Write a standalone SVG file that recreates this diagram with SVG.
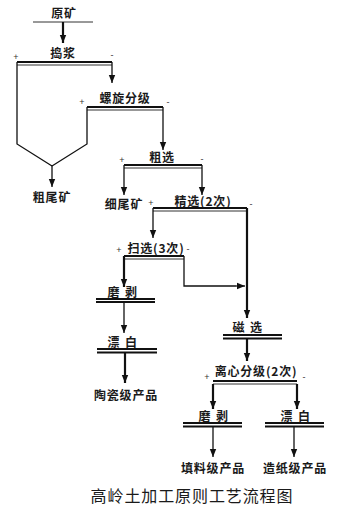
<svg xmlns="http://www.w3.org/2000/svg" width="338" height="506" viewBox="0 0 338 506">
<style>
.t{font-family:"Noto Sans CJK SC","Noto Sans",sans-serif;font-size:12px;font-weight:bold;fill:#1a1a1a;text-anchor:middle;letter-spacing:0.8px}
.s{font-family:"Liberation Sans",sans-serif;font-size:9px;fill:#333;text-anchor:middle}
.title{font-family:"Noto Sans CJK SC",sans-serif;font-size:16px;fill:#1a1a1a;text-anchor:middle;letter-spacing:0.9px}
.b1{stroke:#111;stroke-width:1.8;fill:none}
.b2{stroke:#333;stroke-width:1;fill:none}
.c{stroke:#111;stroke-width:1.3;fill:none}
.ct{stroke:#111;stroke-width:2.2;fill:none}
.ca{stroke:#111;stroke-width:1.3;fill:none;marker-end:url(#ah)}
.cta{stroke:#111;stroke-width:2.2;fill:none;marker-end:url(#ah)}
</style>
<defs>
<marker id="ah" markerUnits="userSpaceOnUse" markerWidth="8" markerHeight="8" viewBox="0 0 8 8" refX="8" refY="4" orient="auto">
<path d="M0 0.8 L8 4 L0 7.2 Z" fill="#111"/>
</marker>
</defs>
<rect width="338" height="506" fill="#fff"/>

<g id="n-yuankuang">
<text class="t" x="64" y="17.5">原矿</text>
<line class="b2" x1="33" y1="22" x2="93" y2="22" stroke-width="1.3"/>
</g>

<g id="n-daojiang">
<text class="t" x="63" y="57.5">捣浆</text>
<text class="s" x="16" y="60">+</text>
<text class="s" x="112" y="58">-</text>
<line class="b1" x1="17" y1="62" x2="112" y2="62"/>
<line class="b2" x1="17" y1="65" x2="112" y2="65"/>
</g>

<g id="n-luoxuan">
<text class="t" x="125" y="102.5">螺旋分级</text>
<text class="s" x="82" y="105">+</text>
<text class="s" x="168" y="105">-</text>
<line class="b1" x1="87" y1="107" x2="163" y2="107"/>
<line class="b2" x1="87" y1="110" x2="163" y2="110"/>
</g>

<g id="n-cuweikuang">
<text class="t" x="52" y="201.5">粗尾矿</text>
</g>

<g id="n-cuxuan">
<text class="t" x="162" y="161.5">粗选</text>
<text class="s" x="122" y="163">+</text>
<text class="s" x="202" y="162">-</text>
<line class="b1" x1="124" y1="165" x2="202" y2="165"/>
<line class="b2" x1="124" y1="168" x2="202" y2="168"/>
</g>

<g id="n-xiweikuang">
<text class="t" x="124" y="208.5">细尾矿</text>
</g>

<g id="n-jingxuan">
<text class="t" x="203" y="205.5">精选(2次)</text>
<text class="s" x="151" y="206">+</text>
<text class="s" x="251" y="207">-</text>
<line class="b1" x1="153" y1="208" x2="247" y2="208" stroke-width="2"/>
<line class="b2" x1="153" y1="211" x2="247" y2="211"/>
</g>

<g id="n-saoxuan">
<text class="t" x="156" y="252.5">扫选(3次)</text>
<text class="s" x="119" y="253">+</text>
<text class="s" x="188" y="252">-</text>
<line class="b1" x1="124" y1="256" x2="184" y2="256"/>
<line class="b2" x1="124" y1="259" x2="184" y2="259"/>
</g>

<g id="n-mobo1">
<text class="t" x="123" y="296.5" style="letter-spacing:1.5px">磨 剥</text>
<line class="b1" x1="96" y1="299" x2="155" y2="299" stroke-width="1.4"/>
<line class="b1" x1="96" y1="302" x2="155" y2="302" stroke-width="1.4"/>
</g>

<g id="n-piaobai1">
<text class="t" x="123" y="346.5" style="letter-spacing:1.5px">漂 白</text>
<line class="b1" x1="97" y1="349" x2="157" y2="349" stroke-width="1.4"/>
<line class="b1" x1="97" y1="352.5" x2="157" y2="352.5" stroke-width="1.4"/>
</g>

<g id="n-taoci">
<text class="t" x="126" y="399.5">陶瓷级产品</text>
</g>

<g id="n-cixuan">
<text class="t" x="248" y="331.5" style="letter-spacing:1.5px">磁 选</text>
<line class="b1" x1="223" y1="335" x2="282" y2="335" stroke-width="1.4"/>
<line class="b1" x1="223" y1="338.5" x2="282" y2="338.5" stroke-width="1.4"/>
</g>

<g id="n-lixin">
<text class="t" x="256" y="375.5">离心分级(2次)</text>
<text class="s" x="207" y="380">+</text>
<text class="s" x="304" y="380">-</text>
<line class="b1" x1="213" y1="381" x2="297" y2="381" stroke-width="2"/>
<line class="b2" x1="213" y1="384" x2="297" y2="384"/>
</g>

<g id="n-mobo2">
<text class="t" x="214" y="420.5" style="letter-spacing:1.5px">磨 剥</text>
<line class="b1" x1="183" y1="423" x2="242" y2="423" stroke-width="1.4"/>
<line class="b1" x1="183" y1="426.5" x2="242" y2="426.5" stroke-width="1.4"/>
</g>

<g id="n-piaobai2">
<text class="t" x="296" y="420.5" style="letter-spacing:1.5px">漂 白</text>
<line class="b1" x1="265" y1="423" x2="324" y2="423" stroke-width="1.4"/>
<line class="b1" x1="265" y1="426.5" x2="324" y2="426.5" stroke-width="1.4"/>
</g>

<g id="n-tianliao">
<text class="t" x="213" y="472.5">填料级产品</text>
</g>

<g id="n-zaozhi">
<text class="t" x="295" y="472.5">造纸级产品</text>
</g>

<g id="connectors">
<path class="cta" d="M63 22 V43"/>
<path class="ca" d="M112 62 V83"/>
<path class="c" d="M17 62 V144 L52 166 M87 107 V144 L52 166"/>
<path class="ca" d="M52 166 V187"/>
<path class="ca" d="M163 107 V150"/>
<path class="ca" d="M124 165 V195"/>
<path class="ca" d="M202 165 V195"/>
<path class="ca" d="M153 208 V238"/>
<path class="cta" d="M247 208 V318"/>
<path class="cta" d="M124 256 V287"/>
<path class="c" d="M184 256 V286 H236" stroke-width="1"/>
<path class="ca" d="M236 286 H245"/>
<path class="ca" d="M124 302 V333"/>
<path class="cta" d="M125 353 V383"/>
<path class="cta" d="M247 338 V361"/>
<path class="cta" d="M213 384 V409"/>
<path class="cta" d="M297 384 V409"/>
<path class="ca" d="M213 427 V457"/>
<path class="ca" d="M294 427 V457"/>
</g>

<text class="title" x="192" y="502">高岭土加工原则工艺流程图</text>
</svg>
